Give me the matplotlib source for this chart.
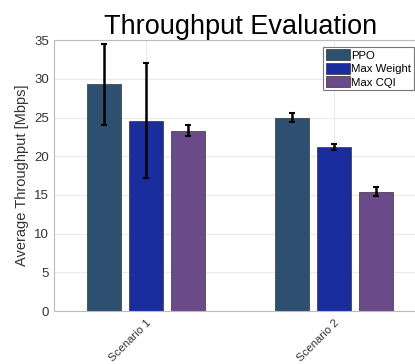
import numpy as np
import matplotlib.pyplot as plt

plt.rcParams['font.family'] = ['Liberation Sans', 'DejaVu Sans']

scenarios = ['Scenario 1', 'Scenario 2']
methods = ['PPO', 'Max Weight', 'Max CQI']
means = {
    'PPO': [29.3, 25.0],
    'Max Weight': [24.6, 21.2],
    'Max CQI': [23.3, 15.4],
}
errors = {
    'PPO': [5.2, 0.6],
    'Max Weight': [7.4, 0.4],
    'Max CQI': [0.7, 0.6],
}
colors = {
    'PPO': '#2d5070',
    'Max Weight': '#1a2d9e',
    'Max CQI': '#6b4a8a',
}

fig = plt.figure(figsize=(4.15, 3.64), dpi=100)
ax = fig.add_axes([0.130, 0.1456, 0.897, 0.744])

x = np.arange(len(scenarios))
width = 0.18
offset = 0.222
for i, m in enumerate(methods):
    ax.bar(x + (i - 1) * offset, means[m], width, color=colors[m],
           edgecolor='#333333', linewidth=0.5, label=m, zorder=2)
    ax.errorbar(x + (i - 1) * offset, means[m], yerr=errors[m], fmt='none',
                ecolor='black', elinewidth=1.8, capsize=2.5, capthick=1.5, zorder=3)

ax.set_xlim(-0.49, 1.49)
ax.set_ylim(0, 35)
ax.set_yticks(range(0, 36, 5))
ax.set_xticks(x)
ax.set_xticklabels(scenarios, rotation=45, ha='right', rotation_mode='anchor',
                   fontsize=8.2, color='#333333')
ax.tick_params(axis='y', labelsize=9.5, colors='#333333', length=0)
ax.tick_params(axis='x', length=0, pad=5)
ax.grid(True, color='#ebebeb', linewidth=0.8, zorder=0)
ax.set_axisbelow(True)
for s in ax.spines.values():
    s.set_color('#bbbbbb')
    s.set_linewidth(0.8)

ax.set_ylabel('Average Throughput [Mbps]', fontsize=10.5, color='#333333', labelpad=4)
ax.set_title('Throughput Evaluation', fontsize=19.5, pad=4)

leg = ax.legend(loc='upper left', bbox_to_anchor=(0.724, 0.975), fontsize=8.2,
                frameon=True, fancybox=False, handlelength=2.1, handleheight=1.1,
                handletextpad=0.15, borderpad=0.2, labelspacing=0.2,
                borderaxespad=0.0)
leg.get_frame().set_edgecolor('#555555')
leg.get_frame().set_linewidth(0.8)

fig.savefig('out.png', dpi=100)
